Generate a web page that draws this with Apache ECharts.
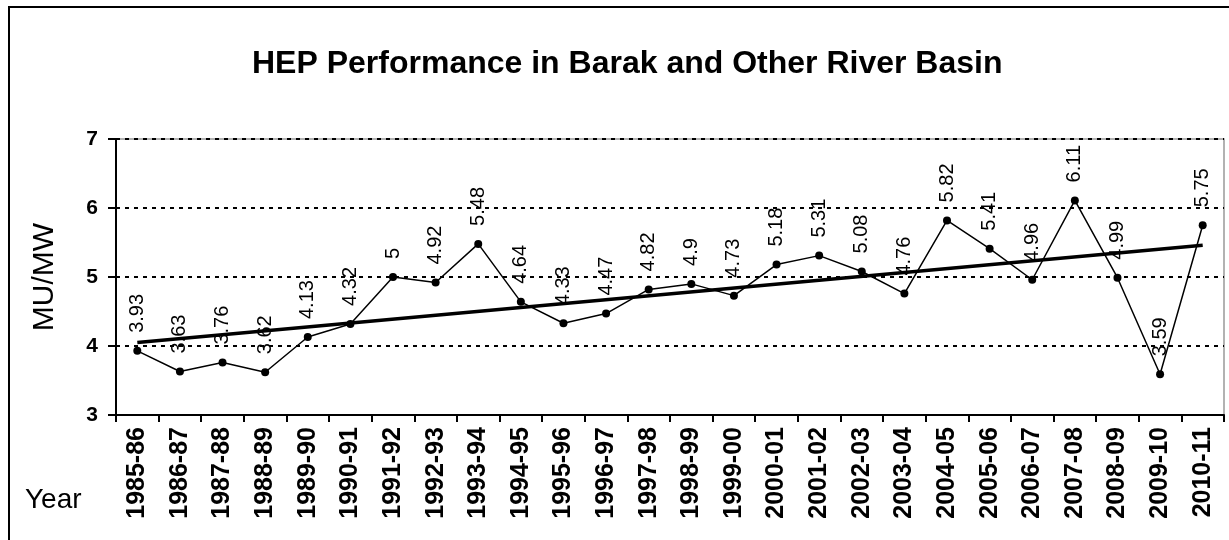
<!DOCTYPE html>
<html lang="en">
<head>
<meta charset="UTF-8">
<title>HEP Performance in Barak and Other River Basin</title>
<script src="https://cdn.jsdelivr.net/npm/echarts@6/dist/echarts.min.js"></script>
<style>
html, body { margin: 0; padding: 0; background: #fff; }
#chart { width: 1229px; height: 540px; }
</style>
</head>
<body>
<div id="chart"></div>
<script>
// years on the x axis
var years = ['1985-86', '1986-87', '1987-88', '1988-89', '1989-90', '1990-91', '1991-92',
  '1992-93', '1993-94', '1994-95', '1995-96', '1996-97', '1997-98', '1998-99', '1999-00',
  '2000-01', '2001-02', '2002-03', '2003-04', '2004-05', '2005-06', '2006-07', '2007-08',
  '2008-09', '2009-10', '2010-11'];

// MU/MW per year
var perf = [3.93, 3.63, 3.76, 3.62, 4.13, 4.32, 5, 4.92, 5.48, 4.64, 4.33, 4.47, 4.82,
  4.9, 4.73, 5.18, 5.31, 5.08, 4.76, 5.82, 5.41, 4.96, 6.11, 4.99, 3.59, 5.75];

// linear trend, ends
var trendStart = 4.05;
var trendEnd = 5.46;

var yTicks = [3, 4, 5, 6, 7];

var trend = years.map(function (y, i) {
  if (i === 0) return trendStart;
  if (i === years.length - 1) return trendEnd;
  return null;
});

var font = 'Liberation Sans, Arial, sans-serif';
var chart = echarts.init(document.getElementById('chart'));

chart.setOption({
  animation: false,
  backgroundColor: '#fff',
  title: {
    text: 'HEP Performance in Barak and Other River Basin',
    left: 247,
    top: 43,
    textStyle: { fontFamily: font, fontSize: 32, fontWeight: 'bold', color: '#000' }
  },
  graphic: [
    { type: 'rect', shape: { x: 9, y: 7, width: 1300, height: 600 },
      style: { fill: 'none', stroke: '#000', lineWidth: 2 }, z: 100 },
    { type: 'text', left: 25, top: 486,
      style: { text: 'Year', font: '28px ' + font, fill: '#000' } }
  ],
  grid: {
    left: 116, right: 5, top: 139, bottom: 125,
    show: true, borderColor: '#999', borderWidth: 1.5
  },
  xAxis: {
    type: 'category',
    data: years,
    boundaryGap: true,
    axisLine: { lineStyle: { color: '#000', width: 2 } },
    axisTick: { show: true, length: 7, lineStyle: { color: '#000', width: 2 } },
    axisLabel: {
      rotate: 90, interval: 0, margin: 12,
      fontFamily: font, fontSize: 25, fontWeight: 'bold', color: '#000'
    },
    splitLine: { show: false }
  },
  yAxis: {
    type: 'value',
    min: yTicks[0], max: yTicks[yTicks.length - 1], interval: 1,
    name: 'MU/MW',
    nameLocation: 'middle',
    nameGap: 56,
    nameTextStyle: { fontFamily: font, fontSize: 30, color: '#000' },
    axisLine: { show: true, lineStyle: { color: '#000', width: 2 } },
    axisTick: { show: true, length: 8, lineStyle: { color: '#000', width: 2 } },
    axisLabel: { margin: 18, fontFamily: font, fontSize: 21, fontWeight: 'bold', color: '#000' },
    splitLine: { show: true, lineStyle: { color: '#000', type: [4, 5], width: 2 } }
  },
  series: [
    {
      name: 'MU/MW',
      type: 'line',
      data: perf,
      symbol: 'circle',
      symbolSize: 8,
      itemStyle: { color: '#000' },
      lineStyle: { color: '#000', width: 1.5 },
      label: {
        show: true,
        position: 'top',
        rotate: 90,
        align: 'left',
        verticalAlign: 'middle',
        distance: 14,
        fontFamily: font,
        fontSize: 20,
        color: '#000'
      },
      z: 3
    },
    {
      name: 'Trend',
      type: 'line',
      data: trend,
      connectNulls: true,
      symbol: 'none',
      lineStyle: { color: '#000', width: 3.5 },
      z: 2
    }
  ]
});
</script>
</body>
</html>
